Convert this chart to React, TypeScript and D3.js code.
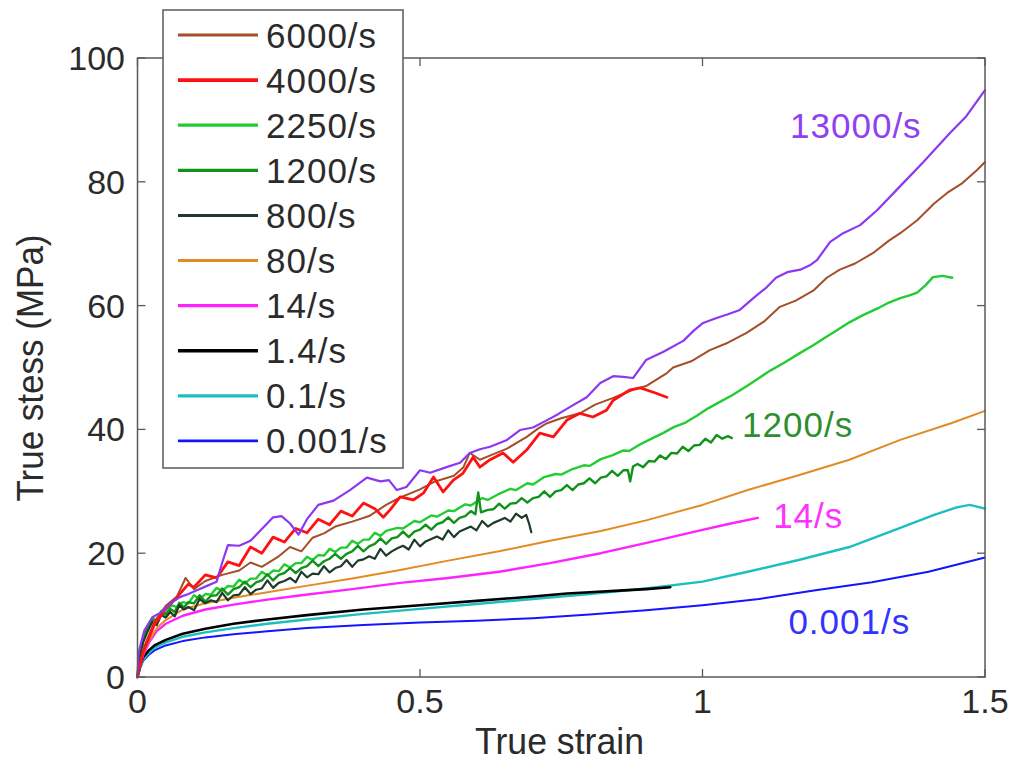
import React from "react";
import * as d3 from "d3";

// ---- strain rate series: [true strain, true stress (MPa)] ----
const rate13000: [number, number][] = [
  [0, 0], [0.002, 4], [0.012, 7.5], [0.027, 9.7], [0.045, 10.6], [0.06, 12.0], [0.075, 12.9], [0.09, 13.4],
  [0.105, 14], [0.12, 14.6], [0.14, 15.4], [0.15, 18.5], [0.16, 21.3], [0.18, 21.2], [0.2, 22], [0.223, 24.2],
  [0.24, 25.8], [0.255, 26], [0.27, 24.8], [0.285, 23], [0.3, 25.5], [0.32, 27.8], [0.347, 28.5], [0.376, 30.2],
  [0.406, 32.2], [0.43, 31.6], [0.445, 31.8], [0.459, 30.2], [0.476, 30.7], [0.5, 33.4], [0.518, 33], [0.547, 33.9],
  [0.571, 34.6], [0.588, 36.2], [0.606, 36.8], [0.624, 37.2], [0.654, 38.3], [0.677, 39.9], [0.7, 40.3], [0.725, 41.5],
  [0.745, 42.5], [0.765, 43.6], [0.795, 45.2], [0.819, 47.5], [0.842, 48.6], [0.86, 48.5], [0.877, 48.3], [0.9, 51.2],
  [0.93, 52.5], [0.966, 54.3], [0.985, 56], [1.001, 57.2], [1.025, 58], [1.045, 58.6], [1.066, 59.3], [1.09, 61.2],
  [1.114, 63], [1.13, 64.5], [1.15, 65.4], [1.173, 65.8], [1.19, 66.5], [1.203, 67.4], [1.226, 70.3], [1.249, 71.7],
  [1.279, 73], [1.309, 75.4], [1.35, 79.3], [1.391, 83.2], [1.438, 87.9], [1.467, 90.6], [1.5, 94.8],
];

const rate6000: [number, number][] = [
  [0, 0], [0.01, 4.5], [0.03, 9], [0.05, 11.5], [0.07, 13], [0.085, 16], [0.1, 14.2], [0.12, 15.5], [0.15, 16.5],
  [0.18, 17.2], [0.2, 18.5], [0.22, 17.8], [0.25, 19.5], [0.27, 21], [0.29, 20.3], [0.31, 22.5], [0.33, 23.2],
  [0.35, 24.3], [0.38, 25.1], [0.41, 26], [0.44, 27.8], [0.465, 29], [0.5, 30.3], [0.524, 31.5], [0.56, 32.5],
  [0.577, 33.9], [0.588, 36.2], [0.606, 35.1], [0.63, 36], [0.654, 36.9], [0.689, 38.8], [0.71, 40.2], [0.725, 41],
  [0.75, 41.8], [0.783, 42.6], [0.81, 44], [0.842, 45.1], [0.877, 46.4], [0.9, 47], [0.937, 49.1], [0.948, 50],
  [0.98, 51], [1.013, 52.8], [1.045, 54], [1.078, 55.6], [1.11, 57.5], [1.137, 59.8], [1.165, 60.8], [1.196, 62.4],
  [1.22, 64.5], [1.243, 65.8], [1.27, 66.8], [1.302, 68.5], [1.33, 70.5], [1.35, 71.7], [1.38, 73.8], [1.41, 76.5],
  [1.433, 78.2], [1.46, 79.8], [1.486, 81.9], [1.5, 83.2],
];

const rate4000: [number, number][] = [
  [0, 0], [0.01, 4], [0.03, 8.5], [0.05, 11], [0.07, 12.9], [0.09, 15], [0.1, 14.5], [0.12, 16.5], [0.14, 16],
  [0.16, 18.6], [0.18, 18], [0.2, 21], [0.22, 20], [0.24, 22.6], [0.26, 21.8], [0.28, 24], [0.3, 23.3], [0.32, 25.5],
  [0.34, 24.6], [0.36, 26.8], [0.38, 26], [0.4, 28.1], [0.42, 27.2], [0.435, 25.8], [0.447, 27], [0.465, 29.1],
  [0.488, 28.6], [0.506, 29.7], [0.524, 32.3], [0.541, 29.9], [0.559, 31.8], [0.576, 32.9], [0.594, 35.5],
  [0.606, 33.9], [0.624, 35.1], [0.647, 36.2], [0.665, 34.7], [0.689, 36.7], [0.712, 39.4], [0.736, 38.8],
  [0.76, 41.5], [0.783, 42.6], [0.806, 42], [0.83, 43.1], [0.842, 44.7], [0.872, 46.4], [0.89, 46.7], [0.913, 46],
  [0.937, 45.2],
];

const rate2250: [number, number][] = [
  [0, 0], [0.004, 3.6], [0.01, 6.3], [0.018, 8.3], [0.026, 9.6], [0.034, 9.1], [0.042, 10.7], [0.05, 10.2],
  [0.06, 11.6], [0.07, 11.3], [0.08, 12.1], [0.09, 11.9], [0.1, 13.2], [0.11, 12.6], [0.12, 13.4], [0.13, 13.3],
  [0.14, 14.4], [0.15, 13.9], [0.16, 14.7], [0.17, 14.6], [0.18, 15.7], [0.19, 15.1], [0.2, 15.9], [0.21, 15.9],
  [0.22, 17.0], [0.23, 16.4], [0.24, 17.2], [0.25, 17.1], [0.26, 18.2], [0.27, 17.7], [0.28, 18.4], [0.29, 18.4],
  [0.3, 19.4], [0.31, 18.9], [0.32, 19.7], [0.33, 19.6], [0.34, 20.7], [0.35, 20.2], [0.36, 20.9], [0.37, 20.9],
  [0.38, 22.0], [0.39, 21.5], [0.4, 22.2], [0.41, 22.2], [0.42, 23.3], [0.43, 22.8], [0.44, 23.6], [0.46, 24.1],
  [0.47, 24.0], [0.49, 25.2], [0.5, 25.0], [0.52, 26.1], [0.53, 25.9], [0.55, 26.9], [0.56, 26.8], [0.58, 27.9],
  [0.59, 27.7], [0.61, 28.9], [0.62, 28.6], [0.64, 29.6], [0.66, 30.4], [0.67, 30.2], [0.69, 31.3], [0.7, 31.1],
  [0.72, 32.3], [0.74, 32.8], [0.75, 32.7], [0.77, 33.6], [0.79, 34.2], [0.8, 34.1], [0.82, 35.2], [0.84, 35.8],
  [0.86, 36.6], [0.87, 36.5], [0.89, 37.6], [0.91, 38.5], [0.93, 39.4], [0.95, 40.4], [0.97, 41.1], [0.99, 42.2],
  [1.01, 43.4], [1.03, 44.4], [1.054, 45.6], [1.08, 47.1], [1.1, 48.3], [1.12, 49.5], [1.143, 50.7], [1.17, 52.2],
  [1.196, 53.6], [1.22, 55.0], [1.231, 55.6], [1.26, 57.3], [1.285, 58.5], [1.309, 59.5], [1.33, 60.5],
  [1.35, 61.2], [1.365, 61.6], [1.38, 62.1], [1.395, 63.3], [1.408, 64.6], [1.425, 64.8], [1.442, 64.5],
];

const rate1200: [number, number][] = [
  [0, 0], [0.004, 3.4], [0.01, 6.0], [0.018, 8.0], [0.026, 9.3], [0.034, 8.9], [0.042, 10.3], [0.05, 10.1],
  [0.058, 11.0], [0.066, 10.5], [0.074, 12.0], [0.082, 11.2], [0.09, 12.1], [0.1, 11.9], [0.11, 13.2], [0.12, 12.2],
  [0.13, 13.1], [0.14, 13.2], [0.15, 14.3], [0.16, 13.3], [0.17, 14.2], [0.18, 14.5], [0.19, 15.4], [0.2, 14.5],
  [0.21, 15.3], [0.22, 15.6], [0.23, 16.6], [0.24, 15.6], [0.25, 16.5], [0.26, 16.8], [0.27, 17.6], [0.28, 16.8],
  [0.29, 17.6], [0.3, 17.9], [0.31, 18.8], [0.32, 17.9], [0.33, 18.7], [0.34, 19.1], [0.35, 19.9], [0.36, 19.1],
  [0.37, 19.9], [0.38, 20.3], [0.39, 21.2], [0.4, 20.3], [0.41, 21.1], [0.42, 21.5], [0.43, 22.4], [0.44, 21.5],
  [0.45, 22.4], [0.46, 22.6], [0.47, 23.5], [0.48, 22.6], [0.49, 23.5], [0.5, 23.8], [0.51, 24.6], [0.52, 23.8],
  [0.53, 24.7], [0.54, 25.0], [0.55, 25.8], [0.56, 24.9], [0.57, 25.7], [0.58, 26.0], [0.59, 26.8], [0.598, 26.3],
  [0.603, 29.8], [0.608, 26.6], [0.62, 27.0], [0.63, 27.1], [0.64, 28.0], [0.65, 27.2], [0.66, 28.0], [0.67, 28.1],
  [0.68, 28.9], [0.69, 28.2], [0.7, 28.9], [0.71, 29.1], [0.72, 30.0], [0.73, 29.1], [0.74, 30.0], [0.75, 30.2],
  [0.76, 31.0], [0.77, 30.2], [0.78, 31.1], [0.79, 31.3], [0.8, 32.1], [0.81, 31.3], [0.82, 32.2], [0.83, 32.4],
  [0.84, 33.3], [0.85, 32.5], [0.86, 33.4], [0.868, 33.4], [0.872, 31.6], [0.877, 34.0], [0.885, 34.4],
  [0.895, 33.9], [0.905, 34.9], [0.915, 34.8], [0.925, 35.8], [0.935, 35.2], [0.945, 36.2], [0.955, 36.1],
  [0.965, 37.2], [0.975, 36.5], [0.985, 37.4], [0.995, 37.5], [1.005, 38.5], [1.015, 37.9], [1.025, 39.1],
  [1.035, 38.5], [1.045, 38.9], [1.052, 38.6],
];

const rate800: [number, number][] = [
  [0, 0], [0.004, 3.2], [0.01, 5.6], [0.018, 7.4], [0.026, 8.9], [0.034, 8.4], [0.042, 10.0], [0.05, 9.6],
  [0.058, 10.5], [0.066, 9.8], [0.074, 11.6], [0.082, 10.9], [0.09, 11.3], [0.1, 10.8], [0.11, 12.6], [0.12, 11.9],
  [0.13, 12.4], [0.14, 12.1], [0.15, 13.6], [0.16, 12.4], [0.17, 13.2], [0.18, 13.3], [0.19, 14.5], [0.2, 13.4],
  [0.21, 14.1], [0.22, 14.3], [0.23, 15.6], [0.24, 14.4], [0.25, 15.2], [0.26, 15.5], [0.27, 16.0], [0.28, 15.3],
  [0.29, 17.0], [0.3, 16.1], [0.31, 16.7], [0.32, 16.6], [0.33, 17.9], [0.34, 16.9], [0.35, 17.6], [0.36, 17.9],
  [0.37, 18.9], [0.38, 17.8], [0.39, 18.8], [0.4, 19.0], [0.41, 19.5], [0.42, 19.1], [0.43, 20.7], [0.44, 19.6],
  [0.45, 20.3], [0.46, 20.8], [0.47, 21.2], [0.48, 20.6], [0.49, 22.2], [0.5, 21.1], [0.51, 21.9], [0.52, 22.3],
  [0.53, 22.7], [0.54, 22.2], [0.55, 23.7], [0.56, 22.6], [0.57, 23.5], [0.58, 23.9], [0.59, 24.3], [0.6, 23.7],
  [0.61, 25.2], [0.62, 24.3], [0.63, 24.9], [0.64, 25.3], [0.65, 25.7], [0.66, 25.1], [0.67, 26.4], [0.68, 25.7],
  [0.688, 26.2], [0.693, 24.8], [0.697, 23.4],
];

const rate80: [number, number][] = [
  [0, 0], [0.005, 2.2], [0.01, 3.8], [0.02, 5.8], [0.035, 8.0], [0.05, 9.2], [0.08, 10.9], [0.12, 11.9],
  [0.17, 12.8], [0.23, 13.7], [0.29, 14.6], [0.38, 15.9], [0.465, 17.3], [0.55, 18.8], [0.64, 20.3], [0.73, 22.0],
  [0.82, 23.6], [0.9, 25.3], [1.0, 27.8], [1.08, 30.2], [1.17, 32.6], [1.26, 35.1], [1.35, 38.3], [1.44, 41.0],
  [1.5, 43.0],
];

const rate14: [number, number][] = [
  [0, 0], [0.005, 2.0], [0.01, 3.5], [0.02, 5.5], [0.034, 7.4], [0.05, 8.6], [0.08, 9.9], [0.12, 10.9],
  [0.17, 11.7], [0.23, 12.5], [0.29, 13.2], [0.38, 14.2], [0.465, 15.2], [0.55, 16.0], [0.64, 17.0], [0.73, 18.4],
  [0.82, 20.0], [0.907, 21.8], [0.996, 23.7], [1.05, 24.8], [1.098, 25.7],
];

const rate1p4: [number, number][] = [
  [0, 0], [0.005, 2.0], [0.01, 3.2], [0.02, 4.3], [0.03, 5.1], [0.05, 6.0], [0.08, 7.0], [0.12, 7.8], [0.17, 8.6],
  [0.23, 9.3], [0.3, 10.0], [0.4, 10.9], [0.5, 11.6], [0.6, 12.3], [0.7, 13.0], [0.76, 13.5], [0.8, 13.7],
  [0.86, 14.0], [0.9, 14.2], [0.943, 14.5],
];

const rate0p1: [number, number][] = [
  [0, 0], [0.005, 1.6], [0.01, 2.8], [0.02, 3.9], [0.03, 4.7], [0.05, 5.6], [0.08, 6.5], [0.12, 7.2], [0.17, 7.9],
  [0.23, 8.6], [0.3, 9.3], [0.4, 10.2], [0.5, 11.0], [0.6, 11.8], [0.7, 12.6], [0.8, 13.4], [0.9, 14.3], [1.0, 15.4],
  [1.08, 17.0], [1.17, 18.9], [1.26, 21.0], [1.35, 24.1], [1.41, 26.2], [1.45, 27.4], [1.473, 27.8], [1.5, 27.2],
];

const rate0p001: [number, number][] = [
  [0, 0], [0.005, 1.5], [0.01, 2.6], [0.02, 3.6], [0.03, 4.3], [0.05, 5.1], [0.08, 5.8], [0.12, 6.4], [0.17, 6.9],
  [0.23, 7.4], [0.3, 7.9], [0.4, 8.4], [0.5, 8.8], [0.6, 9.1], [0.7, 9.5], [0.8, 10.1], [0.9, 10.8], [1.0, 11.6],
  [1.1, 12.6], [1.2, 14.0], [1.3, 15.3], [1.4, 17.0], [1.5, 19.3],
];

// ---- axis ticks ----
const xTicks = [0, 0.5, 1, 1.5];
const yTicks = [0, 20, 40, 60, 80, 100];

// ---- series definitions (legend order) ----
type Series = { name: string; data: [number, number][]; color: string; width: number };
const legendSeries: Series[] = [
  { name: "6000/s", data: rate6000, color: "#a34f28", width: 2 },
  { name: "4000/s", data: rate4000, color: "#ff1111", width: 2.8 },
  { name: "2250/s", data: rate2250, color: "#22cc33", width: 2.4 },
  { name: "1200/s", data: rate1200, color: "#12921a", width: 2.4 },
  { name: "800/s", data: rate800, color: "#1d3b28", width: 2.2 },
  { name: "80/s", data: rate80, color: "#e38a24", width: 2 },
  { name: "14/s", data: rate14, color: "#ff22ff", width: 2.4 },
  { name: "1.4/s", data: rate1p4, color: "#000000", width: 2.6 },
  { name: "0.1/s", data: rate0p1, color: "#1cbfbf", width: 2.4 },
  { name: "0.001/s", data: rate0p001, color: "#1414ff", width: 2 },
];
const extraSeries: Series = { name: "13000/s", data: rate13000, color: "#8c38f2", width: 2.2 };

// drawing order: slow rates underneath, fast rates on top
const drawOrder = ["0.001/s", "0.1/s", "1.4/s", "14/s", "80/s", "2250/s", "1200/s", "800/s", "6000/s", "4000/s", "13000/s"];

// in-plot annotations: label, strain, stress (baseline), colour
const annotations: { text: string; x: number; y: number; color: string }[] = [
  { text: "13000/s", x: 1.155, y: 87.1, color: "#9040f0" },
  { text: "1200/s", x: 1.07, y: 38.8, color: "#2d8f2d" },
  { text: "14/s", x: 1.125, y: 24.0, color: "#ff33ff" },
  { text: "0.001/s", x: 1.152, y: 6.9, color: "#3333ff" },
];

const W = 1016;
const H = 764;
const FONT = "'Liberation Sans', Arial, Helvetica, sans-serif";
const TEXT = "#2b2b2b";
const AXIS = "#5a5a5a";

export default function App() {
  const x = d3.scaleLinear().domain([0, 1.5]).range([137.5, 985]);
  const y = d3.scaleLinear().domain([0, 100]).range([677, 58]);
  const line = d3
    .line<[number, number]>()
    .x((d) => x(d[0]))
    .y((d) => y(d[1]));

  const all = [...legendSeries, extraSeries];
  const ordered = drawOrder.map((n) => all.find((s) => s.name === n)!) as Series[];

  const [x0, x1] = x.range();
  const [y0, y1] = y.range();
  const tickLen = 8;

  const legX = 163;
  const legY = 10;
  const legW = 240;
  const legH = 458;
  const rowY = (i: number) => 35 + i * 45.1;

  return (
    <svg
      width={W}
      height={H}
      style={{ position: "absolute", left: 0, top: 0, background: "#fff" }}
      fontFamily={FONT}
    >
      <rect x={0} y={0} width={W} height={H} fill="#fff" />

      {/* curves */}
      <g fill="none" strokeLinejoin="round" strokeLinecap="round">
        {ordered.map((s) => (
          <path key={s.name} d={line(s.data) || ""} stroke={s.color} strokeWidth={s.width} />
        ))}
      </g>

      {/* axes box */}
      <rect x={x0} y={y1} width={x1 - x0} height={y0 - y1} fill="none" stroke={AXIS} strokeWidth={1.5} />
      {xTicks.map((t) => (
        <g key={"xt" + t}>
          <line x1={x(t)} x2={x(t)} y1={y0} y2={y0 - tickLen} stroke={AXIS} strokeWidth={1.3} />
          <line x1={x(t)} x2={x(t)} y1={y1} y2={y1 + tickLen} stroke={AXIS} strokeWidth={1.3} />
          <text x={x(t)} y={713} textAnchor="middle" fontSize={34} fill={TEXT}>
            {String(t)}
          </text>
        </g>
      ))}
      {yTicks.map((t) => (
        <g key={"yt" + t}>
          <line x1={x0} x2={x0 + tickLen} y1={y(t)} y2={y(t)} stroke={AXIS} strokeWidth={1.3} />
          <line x1={x1} x2={x1 - tickLen} y1={y(t)} y2={y(t)} stroke={AXIS} strokeWidth={1.3} />
          <text x={125} y={y(t) + 12} textAnchor="end" fontSize={34} fill={TEXT}>
            {String(t)}
          </text>
        </g>
      ))}

      {/* axis titles */}
      <text
        x={559.5}
        y={754}
        textAnchor="middle"
        fontSize={37}
        fill={TEXT}
        textLength={169}
        lengthAdjust="spacingAndGlyphs"
      >
        True strain
      </text>
      <text
        transform={`translate(43,368) rotate(-90)`}
        textAnchor="middle"
        fontSize={36}
        fill={TEXT}
        textLength={267}
        lengthAdjust="spacingAndGlyphs"
      >
        True stess (MPa)
      </text>

      {/* annotations */}
      {annotations.map((a) => (
        <text key={a.text} x={x(a.x)} y={y(a.y)} fontSize={35} fill={a.color} letterSpacing={1}>
          {a.text}
        </text>
      ))}

      {/* legend */}
      <rect x={legX} y={legY} width={legW} height={legH} fill="#fff" stroke={AXIS} strokeWidth={1.5} />
      {legendSeries.map((s, i) => (
        <g key={"lg" + s.name}>
          <line x1={178} x2={258} y1={rowY(i)} y2={rowY(i)} stroke={s.color} strokeWidth={s.width + 0.8} />
          <text x={266} y={rowY(i) + 12.5} fontSize={35} fill={TEXT} letterSpacing={1}>
            {s.name}
          </text>
        </g>
      ))}
    </svg>
  );
}
